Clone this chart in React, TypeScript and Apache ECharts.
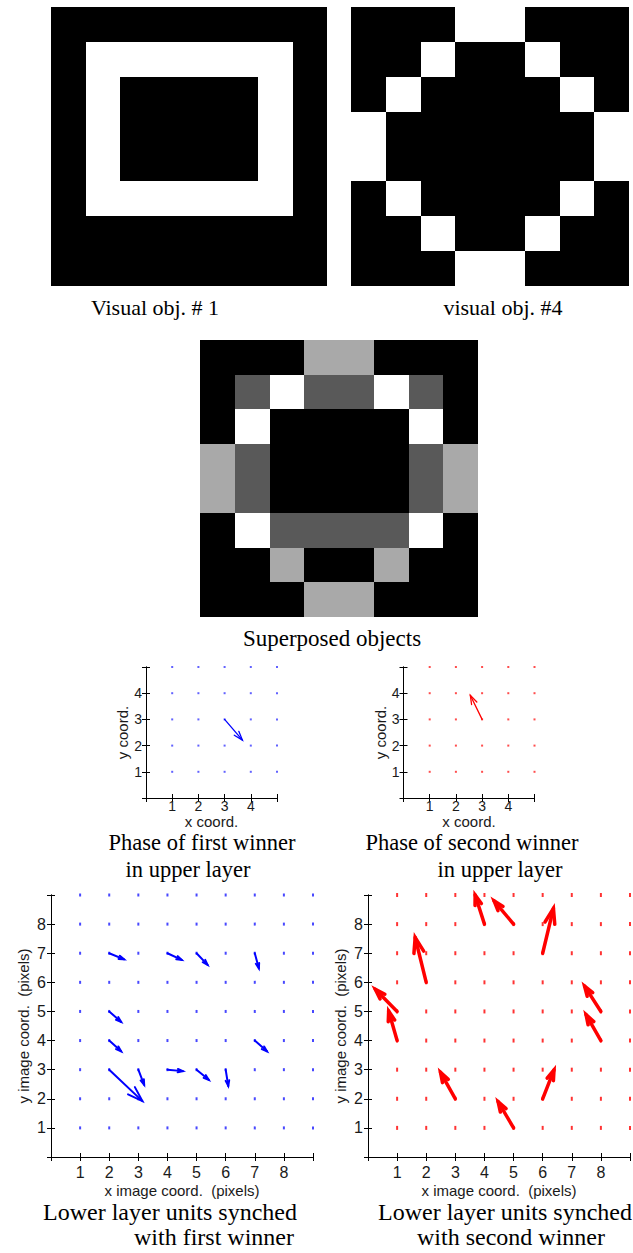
import React, { useEffect, useRef } from "react";
import * as echarts from "echarts";

// ---- image data (rows top to bottom, 8x8) ----
const obj1Rows: number[][] = [
  [0, 0, 0, 0, 0, 0, 0, 0],
  [0, 1, 1, 1, 1, 1, 1, 0],
  [0, 1, 0, 0, 0, 0, 1, 0],
  [0, 1, 0, 0, 0, 0, 1, 0],
  [0, 1, 0, 0, 0, 0, 1, 0],
  [0, 1, 1, 1, 1, 1, 1, 0],
  [0, 0, 0, 0, 0, 0, 0, 0],
  [0, 0, 0, 0, 0, 0, 0, 0],
];
const obj4Rows: number[][] = [
  [0, 0, 0, 1, 1, 0, 0, 0],
  [0, 0, 1, 0, 0, 1, 0, 0],
  [0, 1, 0, 0, 0, 0, 1, 0],
  [1, 0, 0, 0, 0, 0, 0, 1],
  [1, 0, 0, 0, 0, 0, 0, 1],
  [0, 1, 0, 0, 0, 0, 1, 0],
  [0, 0, 1, 0, 0, 1, 0, 0],
  [0, 0, 0, 1, 1, 0, 0, 0],
];
// 0 black, 1 dark gray, 2 light gray, 3 white
const superRows: number[][] = [
  [0, 0, 0, 2, 2, 0, 0, 0],
  [0, 1, 3, 1, 1, 3, 1, 0],
  [0, 3, 0, 0, 0, 0, 3, 0],
  [2, 1, 0, 0, 0, 0, 1, 2],
  [2, 1, 0, 0, 0, 0, 1, 2],
  [0, 3, 1, 1, 1, 1, 3, 0],
  [0, 0, 2, 0, 0, 2, 0, 0],
  [0, 0, 0, 2, 2, 0, 0, 0],
];
const binaryColors = ["#000000", "#ffffff"];
const superColors = ["#000000", "#595959", "#a9a9a9", "#ffffff"];

// ---- quiver data: [x0, y0, x1, y1] ----
const phase1Arrows: number[][] = [[3, 3, 3.68, 2.21]];
const phase2Arrows: number[][] = [[3, 3, 2.55, 3.92]];
const lowerBlueArrows: number[][] = [
  [2, 7, 2.51, 6.79],
  [4, 7, 4.49, 6.77],
  [5, 7, 5.38, 6.6],
  [7, 7, 7.14, 6.48],
  [2, 5, 2.41, 4.64],
  [2, 4, 2.41, 3.63],
  [7, 4, 7.42, 3.63],
  [2, 3, 3.14, 1.92],
  [3, 3, 3.2, 2.48],
  [4, 3, 4.53, 2.95],
  [5, 3, 5.42, 2.65],
  [6, 3, 6.09, 2.44],
];
const lowerRedArrows: number[][] = [
  [1, 5, 0.25, 5.76],
  [1, 4, 0.71, 5.01],
  [2, 6, 1.62, 7.54],
  [4, 8, 3.68, 9.0],
  [5, 8, 4.33, 8.8],
  [6, 7, 6.37, 8.54],
  [8, 5, 7.44, 5.87],
  [8, 4, 7.49, 4.89],
  [3, 2, 2.49, 2.91],
  [6, 2, 6.39, 2.99],
  [5, 1, 4.47, 1.9],
];
const smallGridValues = [1, 2, 3, 4, 5];
const largeGridValues = [1, 2, 3, 4, 5, 6, 7, 8, 9];

const SANS = '"Liberation Sans", Arial, sans-serif';
const SERIF = '"Liberation Serif", "Times New Roman", serif';

function imageCells(rows: number[][]) {
  const out: number[][] = [];
  rows.forEach((row, r) => row.forEach((v, c) => out.push([c, r, v])));
  return out;
}

function gridDots(vals: number[]) {
  const out: number[][] = [];
  vals.forEach((x) => vals.forEach((y) => out.push([x, y])));
  return out;
}

function cellRenderer(palette: string[]) {
  return (_params: any, api: any) => {
    const c = api.value(0);
    const r = api.value(1);
    const v = api.value(2);
    const p0 = api.coord([c, r]);
    const p1 = api.coord([c + 1, r + 1]);
    const x0 = Math.round(p0[0]);
    const y0 = Math.round(p0[1]);
    const x1 = Math.round(p1[0]);
    const y1 = Math.round(p1[1]);
    return {
      type: "rect",
      shape: { x: x0, y: y0, width: x1 - x0, height: y1 - y0 },
      style: { fill: palette[v] },
    };
  };
}

function arrowRenderer(width: number, color: string) {
  return (_params: any, api: any) => {
    const p0 = api.coord([api.value(0), api.value(1)]);
    const p1 = api.coord([api.value(2), api.value(3)]);
    const dx = p1[0] - p0[0];
    const dy = p1[1] - p0[1];
    const a = 0.33;
    const b = 0.33;
    const h1 = [p1[0] - a * (dx + b * dy), p1[1] - a * (dy - b * dx)];
    const h2 = [p1[0] - a * (dx - b * dy), p1[1] - a * (dy + b * dx)];
    return {
      type: "group",
      children: [
        {
          type: "polyline",
          shape: { points: [p0, p1] },
          style: { stroke: color, lineWidth: width, fill: null, lineCap: "round" },
        },
        {
          type: "polyline",
          shape: { points: [h1, p1, h2] },
          style: { stroke: color, lineWidth: width, fill: null, lineJoin: "miter", lineCap: "round" },
        },
      ],
    };
  };
}

export default function App() {
  const ref = useRef<HTMLDivElement>(null);

  useEffect(() => {
    if (!ref.current) return;
    const chart = echarts.init(ref.current, undefined, { renderer: "svg" });

    const grids: any[] = [
      { left: 51, top: 7, width: 276, height: 279, show: true, backgroundColor: "#000", borderWidth: 0 },
      { left: 351, top: 7, width: 278, height: 279, show: true, backgroundColor: "#000", borderWidth: 0 },
      { left: 200, top: 340, width: 278, height: 277, show: true, backgroundColor: "#000", borderWidth: 0 },
      { left: 146, top: 667, width: 131, height: 131 },
      { left: 403.5, top: 667, width: 131, height: 131 },
      { left: 51, top: 895, width: 262, height: 262 },
      { left: 368, top: 895, width: 262, height: 262 },
    ];

    const xAxes: any[] = [];
    const yAxes: any[] = [];
    const series: any[] = [];

    // image panels
    const images = [
      { rows: obj1Rows, palette: binaryColors },
      { rows: obj4Rows, palette: binaryColors },
      { rows: superRows, palette: superColors },
    ];
    images.forEach((img, i) => {
      xAxes.push({ gridIndex: i, type: "value", min: 0, max: 8, show: false });
      yAxes.push({ gridIndex: i, type: "value", min: 0, max: 8, inverse: true, show: false });
      series.push({
        type: "custom",
        xAxisIndex: xAxes.length - 1,
        yAxisIndex: yAxes.length - 1,
        renderItem: cellRenderer(img.palette),
        encode: { x: 0, y: 1 },
        data: imageCells(img.rows),
        silent: true,
      });
    });

    const plots = [
      {
        grid: 3, max: 5, xName: "x coord.", yName: "y coord.", tickFont: 14, nameFont: 15,
        labelMargin: 1, xNameGap: 15, yNameGap: 16, yLabelMargin: 4,
        dots: gridDots(smallGridValues), color: "#0000ff", dotColor: "#3b3bff", dotSize: [2, 2],
        arrows: phase1Arrows, width: 1.3,
      },
      {
        grid: 4, max: 5, xName: "x coord.", yName: "y coord.", tickFont: 14, nameFont: 15,
        labelMargin: 1, xNameGap: 15, yNameGap: 16, yLabelMargin: 4,
        dots: gridDots(smallGridValues), color: "#ff0000", dotColor: "#ff2020", dotSize: [2, 2],
        arrows: phase2Arrows, width: 1.3,
      },
      {
        grid: 5, max: 9, xName: "x image coord.  (pixels)", yName: "y image coord.  (pixels)", tickFont: 16, nameFont: 15,
        labelMargin: 7, xNameGap: 26, yNameGap: 20, yLabelMargin: 5,
        dots: gridDots(largeGridValues), color: "#0000ff", dotColor: "#1a1aff", dotSize: [2, 3],
        arrows: lowerBlueArrows, width: 2,
      },
      {
        grid: 6, max: 9, xName: "x image coord.  (pixels)", yName: "y image coord.  (pixels)", tickFont: 16, nameFont: 15,
        labelMargin: 7, xNameGap: 26, yNameGap: 20, yLabelMargin: 5,
        dots: gridDots(largeGridValues), color: "#ff0000", dotColor: "#ff0000", dotSize: [2, 4],
        arrows: lowerRedArrows, width: 3.5,
      },
    ];

    plots.forEach((p) => {
      const fmt = (v: number) => (v >= 1 && v <= p.max - 1 ? String(v) : "");
      const lineStyle = { color: "#000", width: 1 };
      const tick = { show: true, inside: true, length: 4, lineStyle: { color: "#000", width: 1 } };
      xAxes.push({
        gridIndex: p.grid, type: "value", min: 0, max: p.max, interval: 1, position: "bottom",
        axisLine: { show: true, lineStyle }, axisTick: tick, splitLine: { show: false },
        axisLabel: { formatter: fmt, fontFamily: SANS, fontSize: p.tickFont, color: "#1a1a1a", margin: p.labelMargin },
        name: p.xName, nameLocation: "middle", nameGap: p.xNameGap,
        nameTextStyle: { fontFamily: SANS, fontSize: p.nameFont, color: "#1a1a1a" },
      });
      const xi = xAxes.length - 1;
      xAxes.push({
        gridIndex: p.grid, type: "value", min: 0, max: p.max, interval: 1, position: "top",
        axisLine: { show: true, lineStyle }, axisTick: tick, splitLine: { show: false },
        axisLabel: { show: false },
      });
      yAxes.push({
        gridIndex: p.grid, type: "value", min: 0, max: p.max, interval: 1, position: "left",
        axisLine: { show: true, lineStyle }, axisTick: tick, splitLine: { show: false },
        axisLabel: { formatter: fmt, fontFamily: SANS, fontSize: p.tickFont, color: "#1a1a1a", margin: p.yLabelMargin },
        name: p.yName, nameLocation: "middle", nameGap: p.yNameGap, nameRotate: 90,
        nameTextStyle: { fontFamily: SANS, fontSize: p.nameFont, color: "#1a1a1a" },
      });
      const yi = yAxes.length - 1;
      yAxes.push({
        gridIndex: p.grid, type: "value", min: 0, max: p.max, interval: 1, position: "right",
        axisLine: { show: true, lineStyle }, axisTick: tick, splitLine: { show: false },
        axisLabel: { show: false },
      });
      series.push({
        type: "scatter",
        xAxisIndex: xi,
        yAxisIndex: yi,
        symbol: "rect",
        symbolSize: p.dotSize,
        itemStyle: { color: p.dotColor },
        data: p.dots,
        silent: true,
        z: 2,
      });
      series.push({
        type: "custom",
        xAxisIndex: xi,
        yAxisIndex: yi,
        renderItem: arrowRenderer(p.width, p.color),
        encode: { x: [0, 2], y: [1, 3] },
        data: p.arrows,
        silent: true,
        clip: false,
        z: 3,
      });
    });

    const cap = (text: string, x: number, y: number, size = 22) => ({
      type: "text",
      x,
      y,
      silent: true,
      style: {
        text,
        font: `${size}px ${SERIF}`,
        fill: "#000",
        textAlign: "center",
        textVerticalAlign: "middle",
      },
    });

    chart.setOption({
      animation: false,
      backgroundColor: "#ffffff",
      grid: grids,
      xAxis: xAxes,
      yAxis: yAxes,
      series,
      graphic: [
        cap("Visual obj. # 1", 155, 307, 22),
        cap("visual obj. #4", 503, 307, 22),
        cap("Superposed objects", 332, 638, 23),
        cap("Phase of first winner", 202, 842, 22.5),
        cap("in upper layer", 188, 869, 22.5),
        cap("Phase of second winner", 472, 842, 22.5),
        cap("in upper layer", 500, 869, 22.5),
        cap("Lower layer units synched", 170, 1212, 24),
        cap("with first winner", 214, 1237, 24),
        cap("Lower layer units synched", 505, 1212, 24),
        cap("with second winner", 511, 1237, 24),
      ],
    });

    return () => chart.dispose();
  }, []);

  return (
    <div
      ref={ref}
      style={{ position: "absolute", left: 0, top: 0, width: 633, height: 1253 }}
    />
  );
}
